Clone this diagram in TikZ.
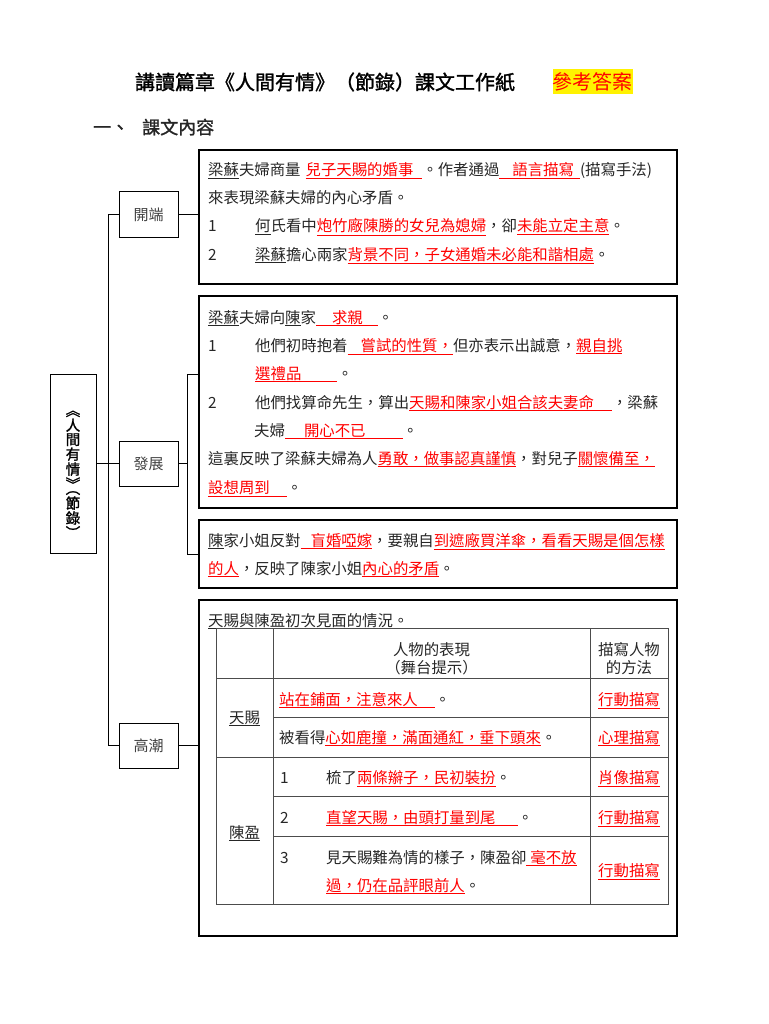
\documentclass[tikz,border=0pt]{standalone}
\usepackage{fontspec}
\setmainfont{Noto Sans CJK TC}
\newfontfamily\boldcjk[FakeBold=1.5]{Noto Sans CJK TC}
\usetikzlibrary{positioning}

% red answer, underlined, with an optional blank before and after it
\NewDocumentCommand\ans{O{0pt} m O{0pt}}{\textcolor{red}{\underline{\hspace*{#1}#2\hspace*{#3}}}}
\newcommand\nm[1]{\underline{#1}} % names are underlined
\newcommand\itemno[2][47pt]{\makebox[#1][l]{#2}}
\newcommand\vchar[1]{\hbox to 1em{\hss#1\hss}\kern1.5pt}
\newcommand\vtitle{\vbox{\offinterlineskip\kern22pt
  \vchar{︽}\vchar{人}\vchar{間}\vchar{有}\vchar{情}\vchar{︾}%
  \vchar{︵}\vchar{節}\vchar{錄}\hbox to 1em{\hss︶\hss}}}

\tikzset{
x=1pt, y=-1pt, % one unit is one pixel of the sheet, y runs down
frame/.style={draw, line width=1.2pt, inner sep=0pt}, % the boxes that hold the answers
stage/.style={draw, line width=1pt, minimum width=59pt, minimum height=45pt, font=\fontsize{15}{18}\selectfont, text=black!75},
link/.style={line width=1pt}, % lines of the tree
grid/.style={draw=black!70, line width=0.8pt}, % lines of the table
txt/.style={anchor=base west, inner sep=0pt, font=\fontsize{15.4}{18}\selectfont, text=black!85},
ctxt/.style={txt, anchor=base},
cell/.style={align=center, inner sep=0pt, font=\fontsize{15.4}{18}\selectfont, text=black!85},
}

\begin{document}
\begin{tikzpicture}
\useasboundingbox (0,0) rectangle (768,1024);

% heading
\node[font=\boldcjk\fontsize{20}{24}\selectfont] (title) at (325,82) {講讀篇章《人間有情》（節錄）課文工作紙};
\node[fill=yellow, text=red, inner xsep=0pt, inner ysep=3.5pt, font=\fontsize{20}{24}\selectfont] (key) at (592.5,81.5) {參考答案};
\node[txt, font=\boldcjk\fontsize{18}{22}\selectfont] (part) at (93,134) {一、\hspace{13pt}課文內容};

% tree
\node[draw, line width=1pt, minimum width=46pt, minimum height=179pt, inner sep=0pt, font=\boldcjk\fontsize{14.5}{16}\selectfont] (book) at (73,463.5) {\vtitle};
\node[stage, right=22pt of book] (dev) {發展};
\node[stage, above=203pt of dev] (start) {開端};
\node[stage, below=236pt of dev] (climax) {高潮};

\node[frame, minimum width=478pt, minimum height=134pt] (open) at (438,217) {};
\node[frame, minimum width=478pt, minimum height=212pt] (grow1) at (438,402) {};
\node[frame, minimum width=478pt, minimum height=68pt] (grow2) at (438,554) {};
\node[frame, minimum width=478pt, minimum height=336pt] (peak) at (438,768) {};

\coordinate (trunk) at (108,464);
\coordinate (fork) at (187,464);
\coordinate (forktop) at (187,374);
\coordinate (forkbot) at (187,554);
\draw[link] (book.east) -- (dev.west);
\draw[link] (start.west) -- (start.west -| trunk) -- (climax.west -| trunk) -- (climax.west);
\draw[link] (start.east) -- (start.east -| open.west);
\draw[link] (dev.east) -- (dev.east -| fork);
\draw[link] (forktop -| grow1.west) -- (forktop) -- (forkbot) -- (forkbot -| grow2.west);
\draw[link] (climax.east) -- (climax.east -| peak.west);

% 開端
\node[txt] (o1) at (208,176) {\nm{梁蘇}夫婦商量\hspace{5pt}\ans{兒子天賜的婚事}[9pt]。作者通過\ans[13pt]{語言描寫}[6pt](描寫手法)};
\node[txt] (o2) at (208,204) {來表現梁蘇夫婦的內心矛盾。};
\node[txt] (o3) at (208,232) {\itemno{1}\nm{何}氏看中\ans{炮竹廠陳勝的女兒為媳婦}，卻\ans{未能立定主意}。};
\node[txt] (o4) at (208,260) {\itemno{2}\nm{梁蘇}擔心兩家\ans{背景不同，子女通婚未必能和諧相處}。};

% 發展
\node[txt] (g1) at (208,323) {\nm{梁蘇}夫婦向\nm{陳}家\ans[16pt]{求親}[15pt]。};
\node[txt] (g2) at (208,351) {\itemno{1}他們初時抱着\ans[13pt]{嘗試的性質，}但亦表示出誠意，\ans{親自挑}};
\node[txt] (g3) at (255,379) {\ans{選禮品}[36pt]。};
\node[txt] (g4) at (208,408) {\itemno{2}他們找算命先生，算出\ans{天賜和陳家小姐合該夫妻命}[18pt]，梁蘇};
\node[txt] (g5) at (254,436) {夫婦\ans[19pt]{開心不已}[37pt]。};
\node[txt] (g6) at (208,464) {這裏反映了梁蘇夫婦為人\ans{勇敢，做事認真謹慎}，對兒子\ans{關懷備至，}};
\node[txt] (g7) at (208,493) {\ans{設想周到}[17pt]。};

\node[txt] (h1) at (208,546) {\nm{陳}家小姐反對\ans[10pt]{盲婚啞嫁}，要親自\ans{到遮廠買洋傘，看看天賜是個怎樣}};
\node[txt] (h2) at (208,574) {\ans{的人}，反映了陳家小姐\ans{內心的矛盾}。};

% 高潮
\node[txt] (p0) at (208,626) {\nm{天賜}與\nm{陳盈}初次見面的情況。};
\draw[grid] (216,628) rectangle (668,904);
\foreach \x in {273,590} \draw[grid] (\x,628) -- (\x,904);
\foreach \y in {678,757} \draw[grid] (216,\y) -- (668,\y);
\foreach \y in {717,796,836} \draw[grid] (273,\y) -- (668,\y);

\node[cell] (hd1) at (431.5,659) {人物的表現\\（舞台提示）};
\node[cell] (hd2) at (629,659) {描寫人物\\的方法};
\node[ctxt] (who1) at (244.5,723) {\nm{天賜}};
\node[ctxt] (who2) at (244.5,838) {\nm{陳盈}};
\node[txt] (r1) at (279,705) {\ans{站在鋪面，注意來人}[17pt]。};
\node[ctxt] (m1) at (629,705) {\ans{行動描寫}};
\node[txt] (r2) at (279,743) {被看得\ans{心如鹿撞，滿面通紅，垂下頭來}。};
\node[ctxt] (m2) at (629,743) {\ans{心理描寫}};
\node[txt] (r3) at (280,783) {\itemno[46pt]{1}梳了\ans{兩條辮子，民初裝扮}。};
\node[ctxt] (m3) at (629,783) {\ans{肖像描寫}};
\node[txt] (r4) at (280,823) {\itemno[46pt]{2}\ans{直望天賜，由頭打量到尾}[22pt]。};
\node[ctxt] (m4) at (629,823) {\ans{行動描寫}};
\node[txt] (r5) at (280,863) {\itemno[46pt]{3}見天賜難為情的樣子，陳盈卻\ans[4pt]{毫不放}};
\node[txt] (r6) at (326,891) {\ans{過，仍在品評眼前人}。};
\node[ctxt] (m5) at (629,876) {\ans{行動描寫}};
\end{tikzpicture}
\end{document}
